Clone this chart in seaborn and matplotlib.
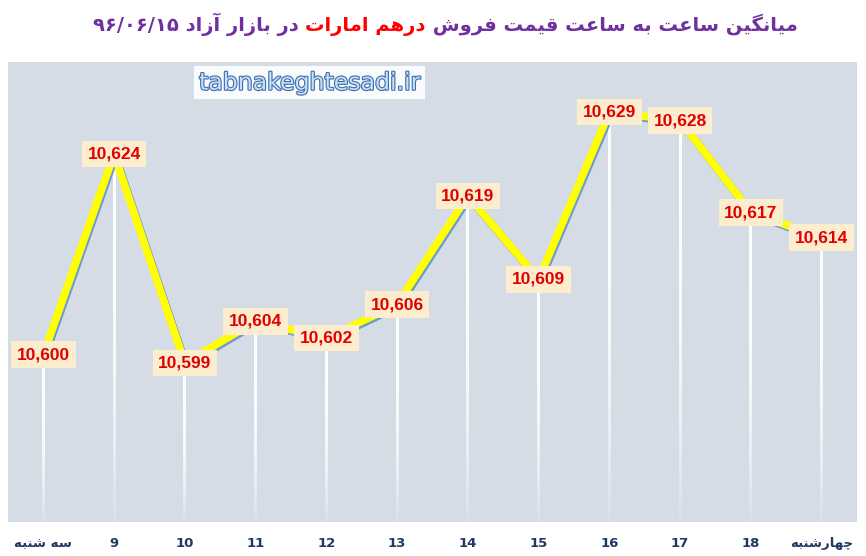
import numpy as np
import matplotlib
matplotlib.use('Agg')
import matplotlib.pyplot as plt
import matplotlib.patheffects as pe
import seaborn as sns

# hourly average price of UAE dirham, 96/06/15
hours = ['سه شنبه', '9', '10', '11', '12', '13', '14', '15', '16', '17', '18', 'چهارشنبه']
prices = [10600, 10624, 10599, 10604, 10602, 10606, 10619, 10609, 10629, 10628, 10617, 10614]

title_parts = ['میانگین ساعت به ساعت قیمت فروش ', 'درهم امارات', ' در بازار آزاد ']
title_date = '۹۶/۰۶/۱۵'
watermark = 'tabnakeghtesadi.ir'

# matplotlib has no arabic shaping, so do it by hand
FORMS = {
    'ا': ('\uFE8D', '\uFE8E', None, None),
    'آ': ('\uFE81', '\uFE82', None, None),
    'ب': ('\uFE8F', '\uFE90', '\uFE91', '\uFE92'),
    'ت': ('\uFE95', '\uFE96', '\uFE97', '\uFE98'),
    'د': ('\uFEA9', '\uFEAA', None, None),
    'ر': ('\uFEAD', '\uFEAE', None, None),
    'ز': ('\uFEAF', '\uFEB0', None, None),
    'س': ('\uFEB1', '\uFEB2', '\uFEB3', '\uFEB4'),
    'ش': ('\uFEB5', '\uFEB6', '\uFEB7', '\uFEB8'),
    'ع': ('\uFEC9', '\uFECA', '\uFECB', '\uFECC'),
    'ف': ('\uFED1', '\uFED2', '\uFED3', '\uFED4'),
    'ق': ('\uFED5', '\uFED6', '\uFED7', '\uFED8'),
    'م': ('\uFEE1', '\uFEE2', '\uFEE3', '\uFEE4'),
    'ن': ('\uFEE5', '\uFEE6', '\uFEE7', '\uFEE8'),
    'ه': ('\uFEE9', '\uFEEA', '\uFEEB', '\uFEEC'),
    'و': ('\uFEED', '\uFEEE', None, None),
    '\u06CC': ('\uFBFC', '\uFBFD', '\uFBFE', '\uFBFF'),
    'گ': ('\uFB92', '\uFB93', '\uFB94', '\uFB95'),
    'چ': ('\uFB7A', '\uFB7B', '\uFB7C', '\uFB7D'),
}


def fa(s):
    s = s.replace('\u064A', '\u06CC')
    out = []
    for i, c in enumerate(s):
        f = FORMS.get(c)
        if f is None:
            out.append(c)
            continue
        prev = s[i-1] if i > 0 else ''
        nxt = s[i+1] if i+1 < len(s) else ''
        jp = prev in FORMS and FORMS[prev][2] is not None
        jn = f[2] is not None and nxt in FORMS
        if jp and jn:
            out.append(f[3])
        elif jp:
            out.append(f[1])
        elif jn:
            out.append(f[2])
        else:
            out.append(f[0])
    return ''.join(reversed(out))


sns.set_style('white', {'axes.facecolor': '#D6DCE5'})
plt.rcParams['font.family'] = ['DejaVu Sans']

fig = plt.figure(figsize=(8.66, 5.56), dpi=100)
ax = fig.add_axes([8/866, 1-522/556, 849/866, 460/556])

x = np.arange(len(prices))
ymin, ymax = 10580, 10635

# white drop lines fading out towards the bottom (drawn as thin gradient images)
grad = np.ones((200, 1, 4))
grad[:, 0, 3] = 1 - 0.9*np.linspace(0, 1, 200)**2.5
hw = 0.02
for xi, yi in zip(x, prices):
    ax.imshow(grad, extent=(xi-hw, xi+hw, ymin, yi), origin='upper',
              aspect='auto', interpolation='bilinear', zorder=1)

sns.lineplot(x=x, y=prices, ax=ax, color='#FFFF00', linewidth=5.5, zorder=3,
             path_effects=[pe.SimpleLineShadow(offset=(1.0, -1.4), shadow_color='#6A9BD0', alpha=1),
                           pe.Normal()])

for xi, yi in zip(x, prices):
    ax.text(xi, yi, f'{yi:,}', ha='center', va='center', color='#E00000',
            fontsize=12.5, fontweight='bold', family='Liberation Sans', zorder=5,
            bbox=dict(boxstyle='square,pad=0.33', fc='#FDEDCF', ec='none'))

ax.set_xlim(-0.5, len(prices)-0.5)
ax.set_ylim(ymin, ymax)
ax.set_yticks([])
ax.set_xticks(x)
ax.set_xticklabels([fa(h) if not h.isdigit() else h for h in hours],
                   fontsize=9.5, fontweight='bold', color='#1F3864')
ax.tick_params(axis='x', length=0, pad=11)
for s in ax.spines.values():
    s.set_visible(False)

ax.text(0.225, 0.955, watermark, transform=ax.transAxes, ha='left', va='center',
        fontsize=17, color='#C8DFF4', zorder=6,
        path_effects=[pe.withStroke(linewidth=1.6, foreground='#3A6DB0')],
        bbox=dict(boxstyle='square,pad=0.2', fc='white', ec='none', alpha=0.9))

# title in three colours, laid out right to left visually
fig.canvas.draw()
r = fig.canvas.get_renderer()
pieces = [(title_date + fa(title_parts[2]), '#7030A0'),
          (fa(title_parts[1]), '#FF0000'),
          (fa(title_parts[0]), '#7030A0')]
texts = []
xpos = 0.0
for s, c in pieces:
    t = fig.text(xpos, 1-31/556, s, color=c, fontsize=14, fontweight='bold',
                 ha='left', va='baseline')
    bb = t.get_window_extent(r)
    xpos = bb.x1 / fig.bbox.width
    texts.append(t)
shift = 445/866 - xpos/2
for t in texts:
    px, py = t.get_position()
    t.set_position((px + shift, py))

fig.savefig('out.png', dpi=100)
